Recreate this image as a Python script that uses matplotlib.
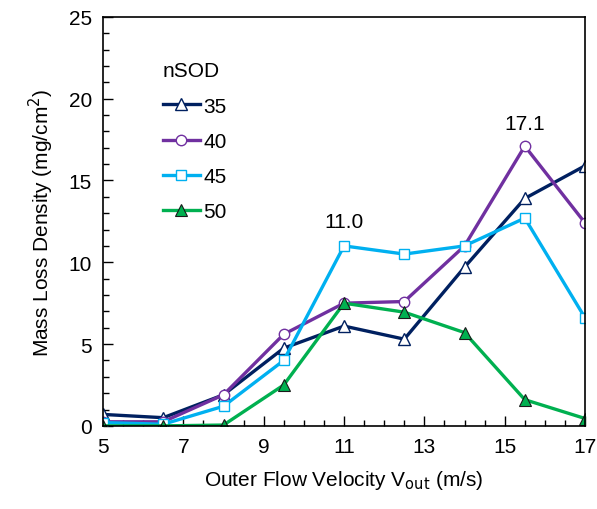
import numpy as np
import matplotlib.pyplot as plt
from matplotlib.ticker import MultipleLocator, FixedLocator

plt.rcParams['font.family'] = ['Liberation Sans', 'DejaVu Sans']

#--- data ---
velocity = [5, 6.5, 8, 9.5, 11, 12.5, 14, 15.5, 17]
nsod_labels = ['35', '40', '45', '50']
loss_35 = [0.7, 0.5, 1.9, 4.75, 6.1, 5.3, 9.7, 13.9, 15.9]
loss_40 = [0.25, 0.25, 1.9, 5.6, 7.5, 7.6, 11.0, 17.1, 12.4]
loss_45 = [0.2, 0.1, 1.2, 4.0, 11.0, 10.5, 11.0, 12.7, 6.6]
loss_50 = [0.0, 0.0, 0.05, 2.5, 7.5, 6.95, 5.7, 1.6, 0.45]
xticks = [5, 7, 9, 11, 13, 15, 17]

fs = 15
fig = plt.figure(figsize=(5.97, 5.10), dpi=100)
ax = fig.add_axes([0.1725, 0.163, 0.8075, 0.802])

ax.plot(velocity, loss_35, color='#002060', lw=2.4, marker='^', ms=8,
        mfc='white', mec='#002060', mew=1, label=nsod_labels[0])
ax.plot(velocity, loss_40, color='#7030A0', lw=2.4, marker='o', ms=7.5,
        mfc='white', mec='#7030A0', mew=1, label=nsod_labels[1])
ax.plot(velocity, loss_45, color='#00B0F0', lw=2.4, marker='s', ms=7,
        mfc='white', mec='#00B0F0', mew=1, label=nsod_labels[2])
ax.plot(velocity, loss_50, color='#00B050', lw=2.4, marker='^', ms=8,
        mfc='#00B050', mec='#1a1a1a', mew=0.8, label=nsod_labels[3])

# peak labels
ax.text(11, 11.9, '%.1f' % loss_45[4], ha='center', va='bottom', fontsize=fs)
ax.text(15.5, 17.9, '%.1f' % loss_40[7], ha='center', va='bottom', fontsize=fs)

ax.set_xlim(5, 17)
ax.set_ylim(0, 25)
ax.xaxis.set_major_locator(FixedLocator(xticks))
ax.xaxis.set_minor_locator(MultipleLocator(0.5))
ax.yaxis.set_major_locator(MultipleLocator(5))
ax.yaxis.set_minor_locator(MultipleLocator(1))
ax.tick_params(which='both', direction='in', top=False, right=False, labelsize=fs)
ax.tick_params(which='major', length=7, width=1, pad=8)
ax.tick_params(which='minor', length=4, width=1)
for s in ax.spines.values():
    s.set_linewidth(1.2)

ax.set_xlabel('Outer Flow Velocity V$_{\\mathrm{out}}$ (m/s)', fontsize=fs, labelpad=9)
ax.set_ylabel('Mass Loss Density (mg/cm$^{2}$)', fontsize=fs, labelpad=9)

leg = ax.legend(title='nSOD', loc='upper left', bbox_to_anchor=(0.085, 0.937),
                frameon=False, fontsize=fs, title_fontsize=fs,
                handlelength=1.8, handletextpad=0.15, labelspacing=0.78)
leg._legend_box.align = 'left'

fig.savefig('out.png', dpi=100)
